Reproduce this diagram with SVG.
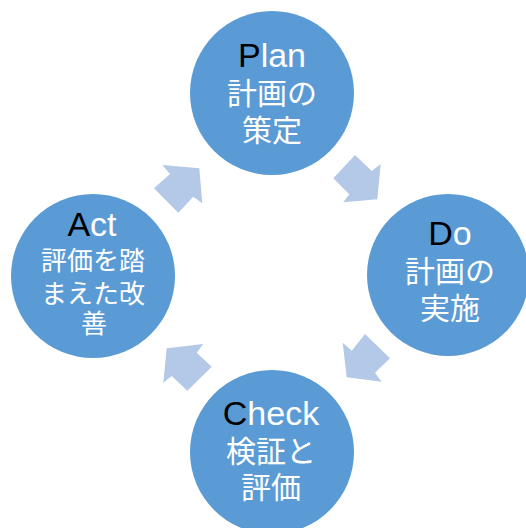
<svg xmlns="http://www.w3.org/2000/svg" width="526" height="528" viewBox="0 0 526 528">
<style>
.c{fill:#5B9BD5}
.a{fill:#B4C8E8}
text{font-family:"Liberation Sans","Noto Sans CJK JP",sans-serif;fill:#fff;text-anchor:middle;font-weight:400}
.h{font-size:34px}
.k{fill:#000}
.j{font-size:30px}
.s{font-size:26px}
</style>
<rect width="526" height="528" fill="#fff"/>
<g id="connectors">
<polygon class="a" points="162.3,165 199.3,168.3 202.3,203.3 193.3,196.7 178.3,212.7 154,188.3 170,174"/>
<polygon class="a" points="355,155 371.7,171 380.7,164 377.3,199.3 343.3,202.3 349.3,194.3 333.3,178.3"/>
<polygon class="a" points="365,334 390,358.3 375,372.7 381.7,381.7 346.7,377.3 342.7,342.7 351.7,350.7"/>
<polygon class="a" points="203.3,344 196.7,352.7 211.7,366.7 187.3,390.7 171.7,376 163.3,382.7 166.7,348.3"/>
</g>
<g id="plan">
<circle class="c" cx="272" cy="93" r="82"/>
<text class="h" x="272" y="67"><tspan class="k">P</tspan>lan</text>
<text class="j" x="272" y="104">計画の</text>
<text class="j" x="272" y="141">策定</text>
</g>
<g id="do">
<circle class="c" cx="448" cy="275" r="81"/>
<text class="h" x="450" y="245"><tspan class="k">D</tspan>o</text>
<text class="j" x="450" y="282">計画の</text>
<text class="j" x="450" y="319">実施</text>
</g>
<g id="check">
<circle class="c" cx="272" cy="452" r="82"/>
<text class="h" x="271" y="425"><tspan class="k">C</tspan>heck</text>
<text class="j" x="271" y="462">検証と</text>
<text class="j" x="271" y="498">評価</text>
</g>
<g id="act">
<circle class="c" cx="93" cy="276" r="82"/>
<text class="h" x="92" y="236"><tspan class="k">A</tspan>ct</text>
<text class="s" x="93" y="270">評価を踏</text>
<text class="s" x="93" y="303">まえた改</text>
<text class="s" x="94" y="333">善</text>
</g>
</svg>
